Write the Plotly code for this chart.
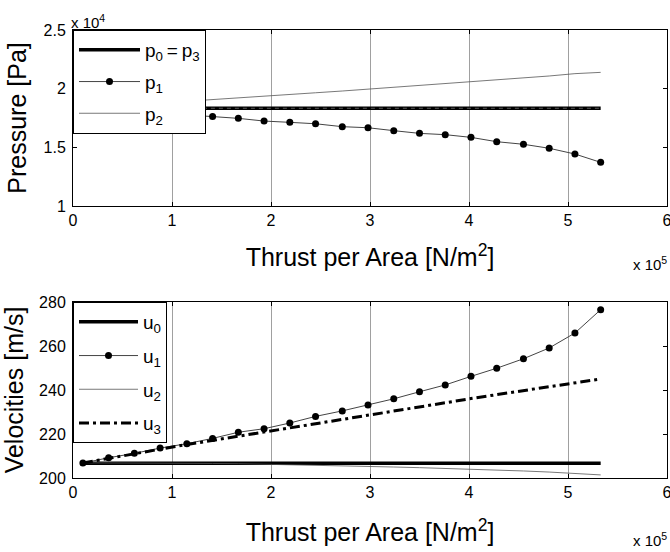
import plotly.graph_objects as go

# Thrust per area [N/m^2]
thrust = [0.10e5, 0.36e5, 0.62e5, 0.88e5, 1.15e5, 1.41e5, 1.67e5, 1.93e5, 2.19e5, 2.45e5,
          2.72e5, 2.98e5, 3.24e5, 3.50e5, 3.76e5, 4.02e5, 4.28e5, 4.55e5, 4.81e5, 5.07e5, 5.33e5]

# Pressures [Pa]
p0 = [1.833e4] * 21
p3 = [1.833e4] * 21
p1 = [1.832e4, 1.819e4, 1.807e4, 1.793e4, 1.780e4, 1.762e4, 1.747e4, 1.724e4, 1.713e4, 1.701e4,
      1.676e4, 1.667e4, 1.642e4, 1.619e4, 1.608e4, 1.585e4, 1.548e4, 1.526e4, 1.492e4, 1.443e4, 1.372e4]
p2 = [1.834e4, 1.848e4, 1.862e4, 1.876e4, 1.890e4, 1.903e4, 1.918e4, 1.935e4, 1.950e4, 1.965e4,
      1.980e4, 1.996e4, 2.010e4, 2.023e4, 2.038e4, 2.054e4, 2.072e4, 2.092e4, 2.108e4, 2.128e4, 2.139e4]

# Velocities [m/s]
u0 = [206.7] * 21
u1 = [206.8, 209.2, 211.2, 213.6, 215.6, 218.0, 220.8, 222.4, 225.0, 228.0,
      230.5, 233.2, 236.0, 239.2, 242.3, 246.2, 249.9, 254.2, 259.1, 265.9, 276.5]
u2 = [206.9, 206.9, 206.8, 206.8, 206.7, 206.6, 206.5, 206.3, 206.1, 205.9,
      205.6, 205.3, 205.0, 204.7, 204.4, 204.1, 203.7, 203.2, 202.7, 202.2, 201.4]
u3 = [206.8, 209.0, 211.1, 213.1, 215.2, 217.1, 219.1, 221.0, 223.0, 224.9,
      226.8, 228.7, 230.6, 232.4, 234.2, 236.1, 237.9, 239.7, 241.5, 243.3, 245.0]

x_tickvals = [0, 1e5, 2e5, 3e5, 4e5, 5e5, 6e5]
x_ticktext = ["0", "1", "2", "3", "4", "5", "6"]
p_tickvals = [1.0e4, 1.5e4, 2.0e4, 2.5e4]
p_ticktext = ["1", "1.5", "2", "2.5"]
u_tickvals = [200, 220, 240, 260, 280]
u_ticktext = ["200", "220", "240", "260", "280"]

FONT = "Liberation Sans, Arial, sans-serif"
W, H = 670, 552
ML, MR, MT = 73, 3, 30
MB = H - 478
ph = H - MT - MB
top_dom = [(478 - 206) / ph, 1.0]
bot_dom = [0.0, (478 - 302) / ph]

fig = go.Figure()

# top subplot
fig.add_trace(go.Scatter(x=thrust, y=p0, mode="lines", name="p<sub>0</sub>\u2009=\u2009p<sub>3</sub>",
                         line=dict(color="black", width=3.5), legend="legend", legendgroup="a",
                         xaxis="x", yaxis="y"))
fig.add_trace(go.Scatter(x=thrust, y=p3, mode="lines", name="p3", showlegend=False,
                         line=dict(color="#5a5a5a", width=1, dash="4px,4px"),
                         xaxis="x", yaxis="y"))
fig.add_trace(go.Scatter(x=thrust, y=p1, mode="lines+markers", name="p<sub>1</sub>",
                         line=dict(color="#444444", width=1),
                         marker=dict(color="black", size=7, symbol="circle"),
                         legend="legend", legendgroup="b", xaxis="x", yaxis="y"))
fig.add_trace(go.Scatter(x=thrust, y=p2, mode="lines", name="p<sub>2</sub>",
                         line=dict(color="#555555", width=0.8),
                         legend="legend", legendgroup="c", xaxis="x", yaxis="y"))

# bottom subplot
fig.add_trace(go.Scatter(x=thrust, y=u0, mode="lines", name="u<sub>0</sub>",
                         line=dict(color="black", width=3.5), legend="legend2", legendgroup="d",
                         xaxis="x2", yaxis="y2"))
fig.add_trace(go.Scatter(x=thrust, y=u1, mode="lines+markers", name="u<sub>1</sub>",
                         line=dict(color="#444444", width=1),
                         marker=dict(color="black", size=7, symbol="circle"),
                         legend="legend2", legendgroup="e", xaxis="x2", yaxis="y2"))
fig.add_trace(go.Scatter(x=thrust, y=u2, mode="lines", name="u<sub>2</sub>",
                         line=dict(color="#555555", width=0.8),
                         legend="legend2", legendgroup="f", xaxis="x2", yaxis="y2"))
fig.add_trace(go.Scatter(x=thrust, y=u3, mode="lines", name="u<sub>3</sub>",
                         line=dict(color="black", width=3, dash="10px,4px,3px,4px"),
                         legend="legend2", legendgroup="g", xaxis="x2", yaxis="y2"))

axis_common = dict(showline=True, linecolor="black", linewidth=1, mirror="ticks",
                   ticks="inside", ticklen=4, tickcolor="black", zeroline=False,
                   automargin=False, ticklabeloverflow="allow",
                   tickfont=dict(family=FONT, size=16, color="black"))
title_font = dict(family=FONT, size=25, color="black")

fig.update_layout(
    width=W, height=H,
    margin=dict(l=ML, r=MR, t=MT, b=MB, autoexpand=False),
    paper_bgcolor="white", plot_bgcolor="white",
    font=dict(family=FONT, color="black"),
    xaxis=dict(domain=[0, 1], anchor="y", range=[0, 6e5], tickvals=x_tickvals, ticktext=x_ticktext,
               showgrid=True, gridcolor="#a0a0a0", gridwidth=1,
               title=dict(text="Thrust per Area [N/m<sup>2</sup>]", font=title_font, standoff=20),
               **axis_common),
    yaxis=dict(domain=top_dom, anchor="x", range=[1.0e4, 2.5e4], tickvals=p_tickvals,
               ticktext=p_ticktext, showgrid=False, ticklabelstandoff=3,
               title=dict(text="Pressure [Pa]", font=title_font, standoff=9),
               **axis_common),
    xaxis2=dict(domain=[0, 1], anchor="y2", range=[0, 6e5], tickvals=x_tickvals, ticktext=x_ticktext,
                showgrid=True, gridcolor="#a0a0a0", gridwidth=1,
                title=dict(text="Thrust per Area [N/m<sup>2</sup>]", font=title_font, standoff=23),
                **axis_common),
    yaxis2=dict(domain=bot_dom, anchor="x2", range=[200, 280], tickvals=u_tickvals,
                ticktext=u_ticktext, showgrid=False, ticklabelstandoff=3,
                title=dict(text="Velocities [m/s]", font=title_font, standoff=9),
                **axis_common),
    legend=dict(x=0, y=1, xanchor="left", yanchor="top", xref="paper", yref="paper",
                bgcolor="white", bordercolor="black", borderwidth=1,
                font=dict(family=FONT, size=19, color="black"),
                itemwidth=61, tracegroupgap=4),
    legend2=dict(x=0, y=bot_dom[1], xanchor="left", yanchor="top", xref="paper", yref="paper",
                 bgcolor="white", bordercolor="black", borderwidth=1,
                 font=dict(family=FONT, size=19, color="black"),
                 itemwidth=59, tracegroupgap=6),
    showlegend=True,
)

fig.add_annotation(text="x 10<sup>4</sup>", xref="paper", yref="paper", x=0, y=1,
                   xanchor="left", yanchor="bottom", showarrow=False, yshift=-3, xshift=-4,
                   font=dict(family=FONT, size=15, color="black"))
fig.add_annotation(text="x 10<sup>5</sup>", xref="paper", yref="paper", x=1, y=top_dom[0],
                   xanchor="right", yanchor="top", showarrow=False, yshift=-46, xshift=2,
                   font=dict(family=FONT, size=15, color="black"))
fig.add_annotation(text="x 10<sup>5</sup>", xref="paper", yref="paper", x=1, y=0,
                   xanchor="right", yanchor="top", showarrow=False, yshift=-50, xshift=2,
                   font=dict(family=FONT, size=15, color="black"))

# remove the default page margin so the 670x552 figure fills the window exactly
fig.write_html(
    "out.html",
    config={"displayModeBar": False},
    post_script="document.body.style.margin='0';document.documentElement.style.overflow='hidden';",
)
